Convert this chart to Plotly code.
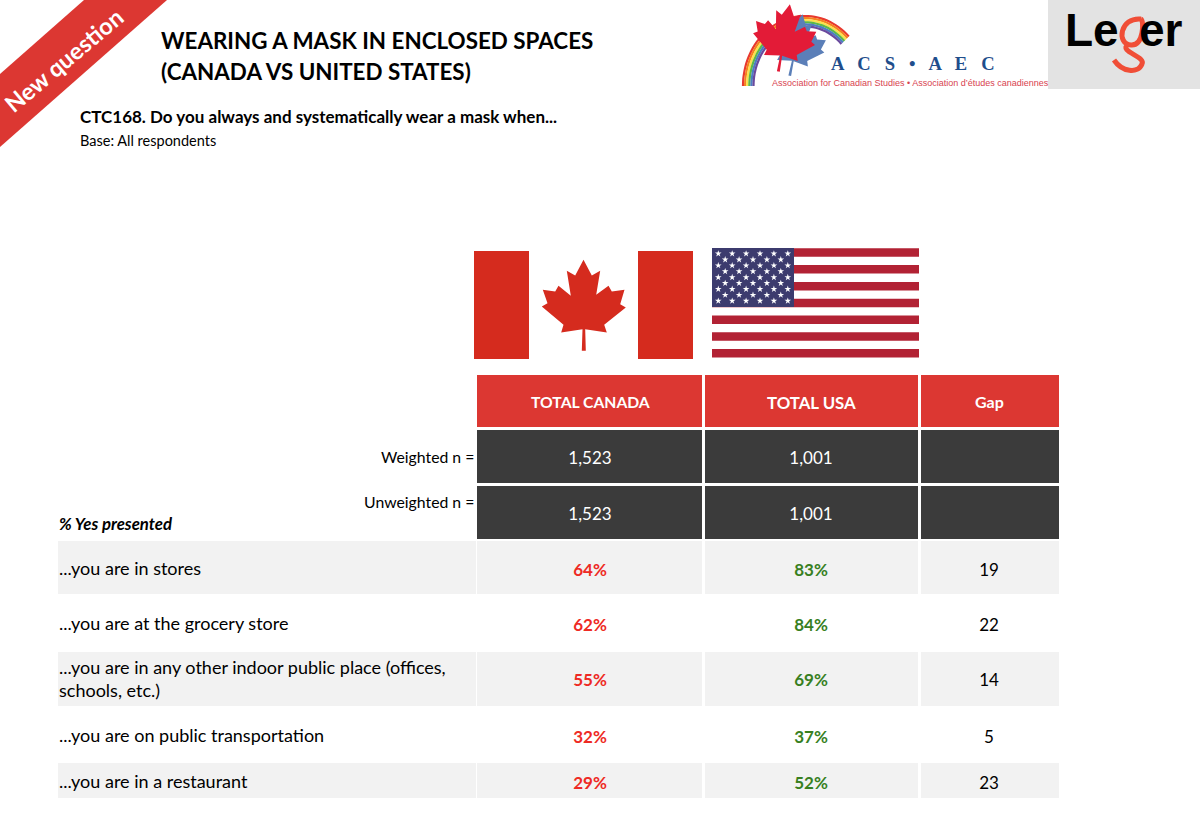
import math
import plotly.graph_objects as go

# table content
row_labels = ["...you are in stores", "...you are at the grocery store",
              "...you are in any other indoor public place (offices,<br>schools, etc.)",
              "...you are on public transportation", "...you are in a restaurant"]
canada_pct = [64, 62, 55, 32, 29]
usa_pct = [83, 84, 69, 37, 52]
gap = [19, 22, 14, 5, 23]
headers = ["TOTAL CANADA", "TOTAL USA", "Gap"]
n_labels = ["Weighted n =", "Unweighted n ="]
canada_n = ["1,523", "1,523"]
usa_n = ["1,001", "1,001"]

# page layout, in pixels of the 1200x825 slide
col_edges = [(477, 702), (705, 918), (921, 1059)]
col_mid = [590, 811, 989]
label_box = (58, 476)
row_edges = [(541, 594), (597, 650), (652, 706), (708, 761), (763, 798)]
row_mid = [569, 624, 679, 736, 782]
dark_edges = [(430, 483), (486, 539)]
dark_mid = [457, 513]
TEXT_DY = 3  # scatter text sits a little high compared to annotations
FONT = "Lato"
RED = "#DC3732"
DARK = "#3B3B3B"
GREY = "#F2F2F2"
FLAG_RED = "#D52B1E"
USA_RED = "#B22234"
USA_BLUE = "#3C3B6E"

shapes = []


def box(x0, x1, y0, y1, color):
    shapes.append(dict(type="rect", x0=x0, x1=x1, y0=y0, y1=y1, layer="below",
                       fillcolor=color, line_width=0))


def poly(points, color, close=True, width=0):
    path = "M" + " L".join(f"{x:.1f},{y:.1f}" for x, y in points) + (" Z" if close else "")
    if close:
        shapes.append(dict(type="path", path=path, layer="below", fillcolor=color, line_width=0))
    else:
        shapes.append(dict(type="path", path=path, layer="below", line=dict(color=color, width=width)))


# maple leaf outline, centred on its stem axis
leaf = [(370, 60), (395, 107), (420, 93), (408, 165), (445, 138), (455, 155), (493, 150),
        (480, 193), (497, 203), (432, 255), (440, 278), (375, 268), (377, 333), (365, 333),
        (367, 268), (303, 278), (310, 255), (245, 200), (262, 190), (248, 150), (285, 155),
        (295, 138), (332, 168), (320, 93), (345, 107)]


def place_leaf(cx, cy, scale, angle=0):
    a = math.radians(angle)
    out = []
    for x, y in leaf:
        dx, dy = (x - 370) * scale, (y - 197) * scale
        out.append((cx + dx * math.cos(a) - dy * math.sin(a), cy + dx * math.sin(a) + dy * math.cos(a)))
    return out


# ribbon
poly([(0, 74), (84, 0), (167, 0), (0, 147)], RED)

# table cells
for (x0, x1), color in zip(col_edges, [RED, RED, RED]):
    box(x0, x1, 375, 427, color)
for y0, y1 in dark_edges:
    for x0, x1 in col_edges:
        box(x0, x1, y0, y1, DARK)
for i, (y0, y1) in enumerate(row_edges):
    if i % 2 == 0:
        box(label_box[0], label_box[1], y0, y1, GREY)
        for x0, x1 in col_edges:
            box(x0, x1, y0, y1, GREY)

# canadian flag
box(474, 529, 251, 359, FLAG_RED)
box(638, 693, 251, 359, FLAG_RED)
poly(place_leaf(583.5, 305.5, 1 / 3), FLAG_RED)

# us flag
for i in range(7):
    box(712, 919, 248.3 + i * 16.8, 256.8 + i * 16.8, USA_RED)
box(712, 794, 248, 307, USA_BLUE)

# acs logo
rainbow = ["#E8392F", "#F58220", "#FBE14B", "#5DB947", "#4C7EC2", "#6A4A9E"]
for i, color in enumerate(rainbow):
    rx, ry = 62 - i * 2.1, 70 - i * 2.1
    arc = [(805 + rx * math.cos(math.radians(t)), 86 + ry * math.sin(math.radians(t)))
           for t in range(180, 318, 3)]
    poly(arc, color, close=False, width=2.2)
poly(place_leaf(796, 45, 0.23, 12), "#5B7FB8")
poly(place_leaf(784, 38, 0.25, 10), "#E31B37")

# leger logo
box(1048, 1200, 0, 89, "#E3E3E3")
shapes.append(dict(type="path", layer="above", line=dict(color="#F04E37", width=5),
                   path="M1141,19 C1120,17 1116,44 1131,45 C1144,46 1144,20 1141,19 "
                        "M1128,44 C1118,52 1146,56 1142,64 C1138,74 1122,72 1114,60"))

fig = go.Figure()

# stars of the us canton
star_x, star_y = [], []
for r in range(9):
    count = 6 if r % 2 == 0 else 5
    for c in range(count):
        star_x.append(718.3 + c * 13.9 + (0 if r % 2 == 0 else 6.9))
        star_y.append(253.7 + r * 5.9)
fig.add_trace(go.Scatter(x=star_x, y=star_y, mode="markers", hoverinfo="skip",
                         marker=dict(symbol="star", size=5, color="white", line_width=0)))

# table values
value_y = [y + TEXT_DY for y in row_mid]
dark_y = [y + TEXT_DY for y in dark_mid]
fig.add_trace(go.Scatter(x=[col_mid[0]] * 5, y=value_y, mode="text", text=[f"{v}%" for v in canada_pct],
                         textfont=dict(family=FONT, size=17, color="#EE2A24", weight="bold")))
fig.add_trace(go.Scatter(x=[col_mid[1]] * 5, y=value_y, mode="text", text=[f"{v}%" for v in usa_pct],
                         textfont=dict(family=FONT, size=17, color="#38801F", weight="bold")))
fig.add_trace(go.Scatter(x=[col_mid[2]] * 5, y=value_y, mode="text", text=[str(v) for v in gap],
                         textfont=dict(family=FONT, size=17, color="black")))
fig.add_trace(go.Scatter(x=[col_mid[0]] * 2, y=dark_y, mode="text", text=canada_n,
                         textfont=dict(family=FONT, size=17, color="white")))
fig.add_trace(go.Scatter(x=[col_mid[1]] * 2, y=dark_y, mode="text", text=usa_n,
                         textfont=dict(family=FONT, size=17, color="white")))


def label(x, y, text, size, color="black", anchor="left", bold=False, italic=False, family=FONT, angle=0):
    if bold:
        text = f"<b>{text}</b>"
    if italic:
        text = f"<i>{text}</i>"
    fig.add_annotation(x=x, y=y, text=text, showarrow=False, xanchor=anchor, yanchor="middle",
                       textangle=angle, align="left", borderpad=0, borderwidth=0,
                       font=dict(family=family, size=size, color=color))


label(161, 40, "WEARING A MASK IN ENCLOSED SPACES", 22.4, bold=True)
label(161, 71, "(CANADA VS UNITED STATES)", 22.4, bold=True)
label(80, 116, "CTC168. Do you always and systematically wear a mask when...", 17, bold=True)
label(80, 140, "Base: All respondents", 14.5)
label(64, 60, "New question", 23.5, color="white", anchor="center", angle=-40, bold=True)
label(59, 523, "% Yes presented", 16.8, bold=True, italic=True)

label(col_mid[0], 402, headers[0], 15.7, color="white", anchor="center", bold=True)
label(col_mid[1], 402, headers[1], 16.8, color="white", anchor="center", bold=True)
label(col_mid[2], 401, headers[2], 16, color="white", anchor="center", bold=True)
label(474, 456, n_labels[0], 15.8, anchor="right")
label(474, 501, n_labels[1], 15.8, anchor="right")

for y, text in zip(row_mid, row_labels):
    label(59, y - 1, text, 18)

label(913, 63, "A   C   S   •   A   E   C", 18.6, color="#1F4E8C", anchor="center", family="Liberation Serif", bold=True)
label(772, 83, "Association for Canadian Studies • Association d’études canadiennes", 9,
      color="#D8434F", family="Liberation Sans")
label(1065, 30, "Le", 46, bold=True, family="Liberation Sans")
label(1139, 30, "er", 46, bold=True, family="Liberation Sans")

fig.update_layout(width=1200, height=825, margin=dict(l=0, r=0, t=0, b=0), showlegend=False,
                  plot_bgcolor="white", paper_bgcolor="white", shapes=shapes)
fig.update_xaxes(range=[0, 1200], visible=False)
fig.update_yaxes(range=[825, 0], visible=False)

fig.write_html("out.html", config=dict(displayModeBar=False),
               post_script="document.body.style.margin='0';document.body.style.overflow='hidden';")
